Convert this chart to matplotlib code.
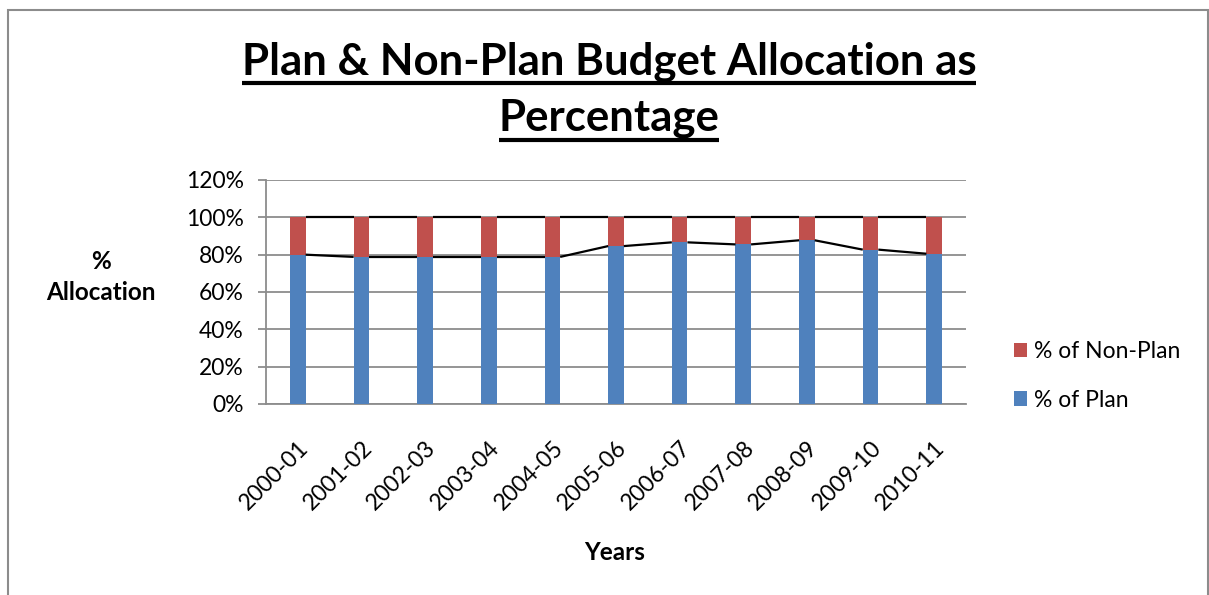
import matplotlib
matplotlib.use("Agg")
import matplotlib.pyplot as plt
from matplotlib.lines import Line2D
from matplotlib.patches import Rectangle
import numpy as np

plt.rcParams['font.family'] = ['Lato', 'DejaVu Sans']

years = ['2000-01', '2001-02', '2002-03', '2003-04', '2004-05', '2005-06',
         '2006-07', '2007-08', '2008-09', '2009-10', '2010-11']
plan_pct = [80.0, 78.8, 78.8, 78.8, 78.8, 84.6, 86.6, 85.5, 87.7, 82.7, 80.5]
nonplan_pct = [100 - p for p in plan_pct]

blue = '#4f81bd'
red = '#c0504d'
grid_col = '#8c8c8c'

fig = plt.figure(figsize=(12.09, 5.95), dpi=100)
ax = fig.add_axes([266 / 1209, 1 - 404 / 595, 700 / 1209, (404 - 180) / 595])

x = np.arange(len(years))
w = 0.245
plan = np.array(plan_pct) / 100
nonplan = np.array(nonplan_pct) / 100
b1 = ax.bar(x, plan, w, color=blue, label='% of Plan', zorder=3)
b2 = ax.bar(x, nonplan, w, bottom=plan, color=red, label='% of Non-Plan', zorder=3)

# series lines joining the tops of neighbouring stacks
for tops in (plan, plan + nonplan):
    for i in range(len(x) - 1):
        ax.plot([x[i] + w / 2, x[i + 1] - w / 2], [tops[i], tops[i + 1]],
                color='black', lw=1.6, zorder=4, solid_capstyle='butt')

ax.set_xlim(-0.5, len(x) - 0.5)
ax.set_ylim(0, 1.2)
ax.set_yticks(np.arange(0, 1.21, 0.2))
ax.set_yticklabels(['%d%%' % round(v * 100) for v in np.arange(0, 1.21, 0.2)])
ax.yaxis.grid(True, color=grid_col, lw=1.3, zorder=0)
ax.set_xticks(x)
ax.set_xticklabels(years, rotation=45, ha='right', rotation_mode='anchor')
ax.tick_params(axis='x', length=0, labelsize=16.5, pad=24)
ax.tick_params(axis='y', length=6, color=grid_col, width=1.3, labelsize=16.5, pad=10)
for s in ('top', 'right'):
    ax.spines[s].set_visible(False)
for s in ('left', 'bottom'):
    ax.spines[s].set_color(grid_col)
    ax.spines[s].set_linewidth(1.3)

fig.text(101 / 1209, 1 - 277 / 595, '%\nAllocation', ha='center', va='center',
         fontsize=17.5, fontweight='bold', linespacing=1.45)
fig.text(615 / 1209, 1 - 552 / 595, 'Years', ha='center', va='center',
         fontsize=17.5, fontweight='bold')

leg = fig.legend(handles=[b2, b1], loc='center left',
                 bbox_to_anchor=(993 / 1209, 1 - 376 / 595), frameon=False,
                 fontsize=16.5, handlelength=0.6, handleheight=0.6,
                 handletextpad=0.3, labelspacing=1.2)

# underlined two-line title
titles = [('Plan & Non-Plan Budget Allocation as', 75, 8), ('Percentage', 130, 10)]
fig.canvas.draw()
rend = fig.canvas.get_renderer()
for txt, yb, gap in titles:
    t = fig.text(609 / 1209, 1 - yb / 595, txt, ha='center', va='baseline',
                 fontsize=31.5, fontweight='bold')
    bb = t.get_window_extent(rend)
    x0, x1 = bb.x0 / fig.bbox.width, bb.x1 / fig.bbox.width
    yl = 1 - (yb + gap) / 595
    fig.add_artist(Line2D([x0, x1], [yl, yl], color='black', lw=3,
                          solid_capstyle='butt'))

# chart border
fig.add_artist(Rectangle((8 / 1209, -0.05), 1200 / 1209, 1 - 10 / 595 + 0.05,
                         transform=fig.transFigure, fill=False,
                         edgecolor='#8c8c8c', lw=1.5))

fig.savefig('out.png', dpi=100, facecolor='white')
